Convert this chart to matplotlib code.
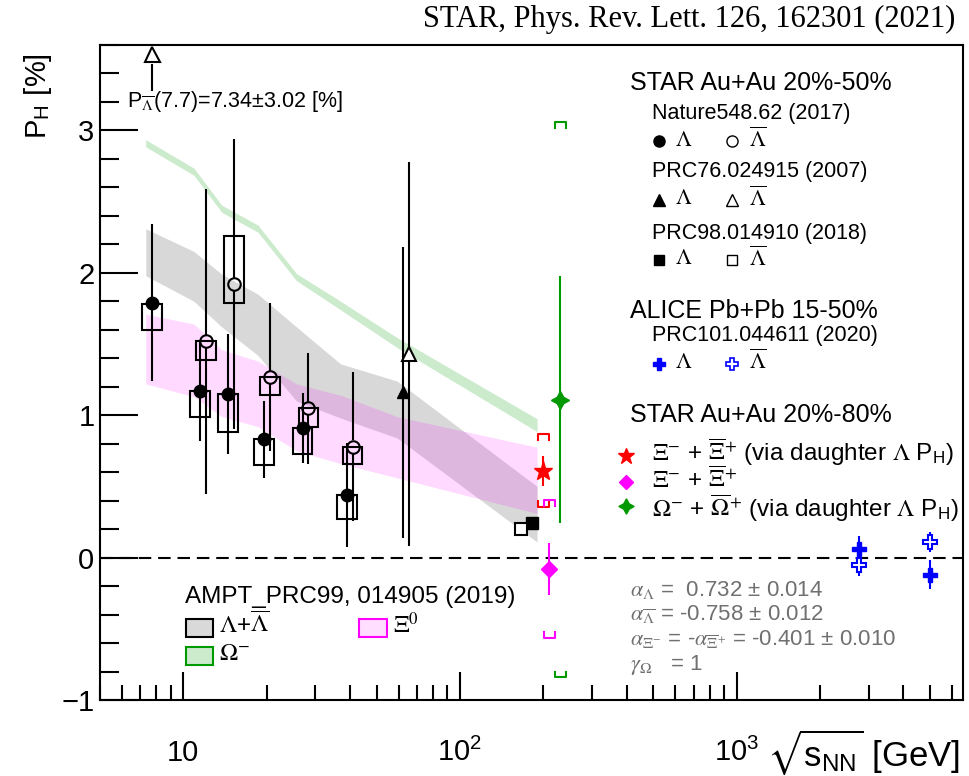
import numpy as np
import matplotlib
matplotlib.use("Agg")
import matplotlib.pyplot as plt
from matplotlib.lines import Line2D
from matplotlib.patches import Rectangle
from matplotlib.ticker import (FixedLocator, FixedFormatter, LogLocator,
                               NullFormatter, MultipleLocator)

plt.rcParams['font.family'] = ['Liberation Sans', 'DejaVu Sans']
plt.rcParams['mathtext.fontset'] = 'stix'

# ---------------- data ----------------
# STAR Au+Au 20-50%, Nature 548, 62 (2017)
bes_energy = [7.7, 11.5, 14.5, 19.6, 27.0, 39.0]
lam_ph = [1.79, 1.17, 1.15, 0.83, 0.91, 0.44]
lam_stat = [0.55, 0.35, 0.42, 0.27, 0.245, 0.365]
lam_sys_lo = [1.60, 0.99, 0.88, 0.65, 0.73, 0.27]
lam_sys_hi = [1.78, 1.17, 1.15, 0.83, 0.91, 0.44]

alam_energy = [11.5, 14.5, 19.6, 27.0, 39.0]
alam_ph = [1.52, 1.92, 1.27, 1.05, 0.78]
alam_stat = [1.07, 1.02, 0.52, 0.39, 0.52]
alam_sys_lo = [1.39, 1.79, 1.14, 0.92, 0.66]
alam_sys_hi = [1.52, 2.26, 1.27, 1.05, 0.78]

# anti-Lambda at 7.7 GeV lies above the frame
alam_77_energy = 7.7
alam_77_ph, alam_77_err = 7.34, 3.02

# STAR PRC76 024915 (2007), 62.4 GeV
prc76_energy = 62.4
prc76_lam, prc76_lam_err = 1.16, 1.02
prc76_alam, prc76_alam_err = 1.43, 1.35

# STAR PRC98 014910 (2018), 200 GeV
prc98_energy = 200.0
prc98_lam, prc98_lam_err = 0.24, 0.02
prc98_alam, prc98_alam_err = 0.20, 0.02

# ALICE Pb+Pb 15-50%, PRC101 044611 (2020)
alice_energy = [2760.0, 5020.0]
alice_lam = [0.06, -0.12]
alice_lam_err = [0.09, 0.10]
alice_alam = [-0.05, 0.11]
alice_alam_err = [0.08, 0.07]

# STAR Au+Au 20-80%, multi-strange hyperons at 200 GeV
ms_energy = 200.0
xi_daughter, xi_daughter_stat, xi_daughter_sys = 0.61, 0.105, 0.255
xi_direct, xi_direct_stat, xi_direct_sys = -0.08, 0.185, 0.485
omega_ph, omega_stat, omega_sys = 1.11, 0.87, 1.95

# AMPT PRC99 014905 (2019) bands
ampt_energy = [7.7, 11.5, 14.5, 19.6, 27.0, 39.0, 62.4, 200.0]
ampt_lam_hi = [2.31, 2.15, 1.99, 1.85, 1.62, 1.36, 1.24, 0.50]
ampt_lam_lo = [1.98, 1.80, 1.62, 1.42, 1.10, 0.98, 0.84, 0.11]
ampt_xi_hi = [1.71, 1.64, 1.46, 1.38, 1.22, 1.14, 0.99, 0.775]
ampt_xi_lo = [1.22, 1.13, 0.99, 0.92, 0.75, 0.66, 0.56, 0.31]
ampt_om_hi = [2.935, 2.735, 2.475, 2.335, 1.995, 1.80, 1.545, 0.975]
ampt_om_lo = [2.885, 2.685, 2.425, 2.285, 1.945, 1.74, 1.475, 0.885]

xtick_values = [10, 100, 1000]
xtick_labels = ['10', r'10$^{\mathregular{2}}$', r'10$^{\mathregular{3}}$']

# ---------------- figure ----------------
W, H = 969, 776
fig = plt.figure(figsize=(W / 100, H / 100), dpi=100)
ax = fig.add_axes([100 / W, 76 / H, 863 / W, 655 / H])


def fx(px):
    return px / W


def fy(py):
    return 1 - py / H


ax.set_xscale('log')
ax.set_xlim(5.0, 6580)
ax.set_ylim(-1.0, 3.6)

for s in ax.spines.values():
    s.set_linewidth(1.5)

ax.xaxis.set_major_locator(FixedLocator(xtick_values))
ax.xaxis.set_major_formatter(FixedFormatter(xtick_labels))
ax.xaxis.set_minor_locator(LogLocator(base=10, subs=np.arange(2, 10), numticks=50))
ax.xaxis.set_minor_formatter(NullFormatter())
ax.yaxis.set_major_locator(MultipleLocator(1))
ax.yaxis.set_minor_locator(MultipleLocator(0.2))

ax.tick_params(axis='both', which='both', direction='in', top=False, right=False)
ax.tick_params(axis='y', which='major', length=27, width=1.5, pad=4, labelsize=21)
ax.tick_params(axis='y', which='minor', length=14, width=1.5)
ax.tick_params(axis='x', which='major', length=20, width=1.5, pad=28, labelsize=21)
ax.tick_params(axis='x', which='minor', length=11, width=1.5)

# zero line
ax.axhline(0, color='k', lw=1.5, ls=(0, (6, 3.3)), zorder=2)

# AMPT bands (drawn slightly to the left of nominal energies)
band_shift = 0.95
bx = np.array(ampt_energy) * band_shift
ax.fill_between(bx, ampt_om_lo, ampt_om_hi, color=(0.0, 0.6, 0.0), alpha=0.2, lw=0, zorder=1)
ax.fill_between(bx, ampt_lam_lo, ampt_lam_hi, color=(0.5, 0.5, 0.5), alpha=0.3, lw=0, zorder=1)
ax.fill_between(bx, ampt_xi_lo, ampt_xi_hi, color=(1.0, 0.0, 1.0), alpha=0.15, lw=0, zorder=1)

LW = 1.5
MS = 9
box_half = 1.085
dodge_alam = 1.05
gap = 0.044


def vbar(x, y, err, color='k', lw=LW, g=0.0, z=3):
    if g > 0:
        ax.vlines(x, y + g, y + err, color=color, lw=lw, zorder=z)
        ax.vlines(x, y - err, y - g, color=color, lw=lw, zorder=z)
    else:
        ax.vlines(x, y - err, y + err, color=color, lw=lw, zorder=z)


def sys_box(x, lo, hi):
    ax.add_patch(Rectangle((x / box_half, lo), x * box_half - x / box_half, hi - lo,
                           fill=False, ec='k', lw=LW, zorder=3))


def bracket(x, lo, hi, color, half=1.047, leg=0.04):
    xl, xr = x / half, x * half
    ax.plot([xl, xl, xr, xr], [hi - leg, hi, hi, hi - leg], color=color, lw=1.5, zorder=3)
    ax.plot([xl, xl, xr, xr], [lo + leg, lo, lo, lo + leg], color=color, lw=1.5, zorder=3)


# Nature 2017 Lambda
for e, v, st, lo, hi in zip(bes_energy, lam_ph, lam_stat, lam_sys_lo, lam_sys_hi):
    sys_box(e, lo, hi)
    vbar(e, v, st)
ax.plot(bes_energy, lam_ph, 'o', ms=MS, mfc='k', mec='k', zorder=4)

# Nature 2017 anti-Lambda
ax_e = [e * dodge_alam for e in alam_energy]
for e, v, st, lo, hi in zip(ax_e, alam_ph, alam_stat, alam_sys_lo, alam_sys_hi):
    sys_box(e, lo, hi)
    vbar(e, v, st, g=gap)
ax.plot(ax_e, alam_ph, 'o', ms=MS, mfc='none', mec='k', mew=LW, zorder=4)

# off-scale anti-Lambda at 7.7 GeV: arrow
ax.vlines(alam_77_energy, 3.28, 3.47, color='k', lw=LW, zorder=3)
ax.plot([alam_77_energy], [3.535], '^', ms=10.8, mfc='white', mec='k', mew=LW,
        zorder=4, clip_on=False)
ax.text(fx(127), fy(101),
        r'P$_{\overline{\Lambda}}$(%.1f)=%.2f±%.2f [%%]' % (alam_77_energy, alam_77_ph, alam_77_err),
        transform=fig.transFigure, ha='left', va='center', fontsize=15.5)

# PRC76 62.4 GeV
vbar(prc76_energy, prc76_lam, prc76_lam_err)
ax.plot([prc76_energy], [prc76_lam], '^', ms=MS, mfc='k', mec='k', zorder=4)
e76 = prc76_energy * dodge_alam
vbar(e76, prc76_alam, prc76_alam_err, g=gap)
ax.plot([e76], [prc76_alam], '^', ms=MS + 1.5, mfc='white', mec='k', mew=LW, zorder=4)

# PRC98 200 GeV
ax.plot([prc98_energy * 0.91], [prc98_lam], 's', ms=MS, mfc='k', mec='k', zorder=4)
ax.plot([prc98_energy * 0.83], [prc98_alam], 's', ms=MS, mfc='white', mec='k', mew=LW, zorder=4)

# multi-strange hyperons
e_red, e_mag, e_grn = ms_energy, ms_energy * 1.05, ms_energy * 1.15
bracket(e_red, xi_daughter - xi_daughter_sys, xi_daughter + xi_daughter_sys, 'red')
vbar(e_red, xi_daughter, xi_daughter_stat, color='red')
ax.plot([e_red], [xi_daughter], '*', ms=14, color='red', mec='red', zorder=5)

bracket(e_mag, xi_direct - xi_direct_sys, xi_direct + xi_direct_sys, 'magenta')
vbar(e_mag, xi_direct, xi_direct_stat, color='magenta')
ax.plot([e_mag], [xi_direct], 'D', ms=8, color='magenta', zorder=5)

bracket(e_grn, omega_ph - omega_sys, omega_ph + omega_sys, (0.0, 0.6, 0.0))
vbar(e_grn, omega_ph, omega_stat, color=(0.0, 0.6, 0.0))
ax.plot([e_grn], [omega_ph], marker=(4, 1, 0), ms=13, color=(0.0, 0.6, 0.0), zorder=5)

# ALICE
for e, v, st in zip(alice_energy, alice_lam, alice_lam_err):
    vbar(e, v, st, color='blue', lw=1.5)
for e, v, st in zip(alice_energy, alice_alam, alice_alam_err):
    vbar(e, v, st, color='blue', lw=1.5)
ax.plot(alice_energy, alice_lam, 'P', ms=10, color='blue', zorder=5)
ax.plot(alice_energy, alice_alam, 'P', ms=10, mfc='white', mec='blue', mew=1.5, zorder=5)

# ---------------- annotations ----------------
T = fig.transFigure


def ftxt(px, py, s, size, **kw):
    fig.text(fx(px), fy(py), s, fontsize=size, va='center', ha=kw.pop('ha', 'left'), **kw)


def fmark(px, py, **kw):
    fig.add_artist(Line2D([fx(px)], [fy(py)], transform=T, ls='none', **kw))


ftxt(955, 19, 'STAR, Phys. Rev. Lett. 126, 162301 (2021)', 22, ha='right',
     family=['Liberation Serif', 'DejaVu Serif'])
fig.text(fx(38), fy(96), r'P$_{\mathregular{H}}$ [%]', rotation=90, fontsize=21,
         ha='center', va='center')
ftxt(960, 752, r'$\sqrt{\mathregular{s_{NN}}}$ [GeV]', 25, ha='right')

# right-hand legend
ftxt(630, 83, 'STAR Au+Au 20%-50%', 18)
ftxt(652, 113, 'Nature548.62 (2017)', 15.5)
fmark(659, 141, marker='o', ms=8, mfc='k', mec='k')
ftxt(675, 140, r'$\Lambda$', 16)
fmark(732, 141, marker='o', ms=8, mfc='white', mec='k', mew=1)
ftxt(749, 140, r'$\overline{\Lambda}$', 16)
ftxt(652, 172, 'PRC76.024915 (2007)', 15.5)
fmark(659, 200, marker='^', ms=8, mfc='k', mec='k')
ftxt(675, 199, r'$\Lambda$', 16)
fmark(732, 200, marker='^', ms=8, mfc='white', mec='k', mew=1)
ftxt(749, 199, r'$\overline{\Lambda}$', 16)
ftxt(652, 233, 'PRC98.014910 (2018)', 15.5)
fmark(659, 260, marker='s', ms=7, mfc='k', mec='k')
ftxt(675, 259, r'$\Lambda$', 16)
fmark(732, 260, marker='s', ms=7, mfc='white', mec='k', mew=1)
ftxt(749, 259, r'$\overline{\Lambda}$', 16)

ftxt(630, 311, 'ALICE Pb+Pb 15-50%', 18)
ftxt(652, 335, 'PRC101.044611 (2020)', 15.5)
fmark(659, 364, marker='P', ms=9, mfc='blue', mec='blue')
ftxt(675, 362, r'$\Lambda$', 16)
fmark(732, 364, marker='P', ms=9, mfc='white', mec='blue', mew=1.2)
ftxt(749, 362, r'$\overline{\Lambda}$', 16)

ftxt(630, 415, 'STAR Au+Au 20%-80%', 18)
fmark(626, 456, marker='*', ms=12, mfc='red', mec='red')
ftxt(652, 452, r'$\Xi^{-}$ + $\overline{\Xi}^{+}$ (via daughter $\Lambda$ P$_{\mathregular{H}}$)', 17.5)
fmark(626, 482, marker='D', ms=7, mfc='magenta', mec='magenta')
ftxt(652, 480, r'$\Xi^{-}$ + $\overline{\Xi}^{+}$', 17.5)
fmark(626, 506, marker=(4, 1, 0), ms=11, mfc=(0, 0.6, 0), mec=(0, 0.6, 0))
ftxt(652, 508, r'$\Omega^{-}$ + $\overline{\Omega}^{+}$ (via daughter $\Lambda$ P$_{\mathregular{H}}$)', 17.5)

# decay parameters
gcol = '#707070'
ftxt(630, 590, r'$\alpha_{\Lambda}$ =  0.732 ± 0.014', 16, color=gcol)
ftxt(630, 615, r'$\alpha_{\overline{\Lambda}}$ = -0.758 ± 0.012', 16, color=gcol)
ftxt(630, 640, r'$\alpha_{\Xi^{-}}$ = -$\alpha_{\overline{\Xi}^{+}}$ = -0.401 ± 0.010', 16, color=gcol)
ftxt(630, 665, r'$\gamma_{\Omega}$   = 1', 16, color=gcol)

# AMPT legend
ftxt(185, 597, 'AMPT_PRC99, 014905 (2019)', 17.5)
fig.add_artist(Rectangle((fx(186), fy(637)), fx(27), 18 / H, transform=T,
                         fc=(0.85, 0.85, 0.85), ec='k', lw=1.5))
ftxt(219, 625, r'$\Lambda$+$\overline{\Lambda}$', 17.5)
fig.add_artist(Rectangle((fx(359), fy(637)), fx(28), 18 / H, transform=T,
                         fc=(1.0, 0.87, 1.0), ec='magenta', lw=1.5))
ftxt(393, 625, r'$\Xi^{0}$', 17.5)
fig.add_artist(Rectangle((fx(186), fy(665)), fx(27), 18 / H, transform=T,
                         fc=(0.8, 0.92, 0.8), ec=(0, 0.6, 0), lw=1.5))
ftxt(219, 654, r'$\Omega^{-}$', 17.5)

fig.savefig('out.png', dpi=100)
